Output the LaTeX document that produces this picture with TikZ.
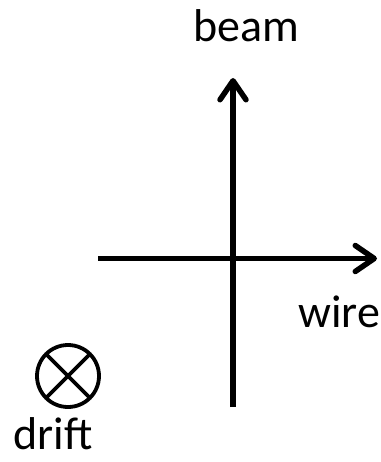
\documentclass[tikz,border=0pt]{standalone}
\usepackage{fontspec}
\setmainfont{Carlito}
\usetikzlibrary{arrows.meta}
\begin{document}
\begin{tikzpicture}[x=1pt,y=-1pt,
  axis/.style={line width=5.5pt,-{Straight Barb[length=19pt,width=26pt,line cap=round,line join=round]}},
  lbl/.style={font=\fontsize{46}{55}\selectfont,anchor=base,inner sep=0pt},
  drifts/.style={circle,draw,line width=3.8pt,minimum size=62pt,inner sep=0pt,
    path picture={\draw[line width=3.8pt] (path picture bounding box.north west) -- (path picture bounding box.south east)
      (path picture bounding box.north east) -- (path picture bounding box.south west);}}]
\useasboundingbox (0,0) rectangle (380,462);
\coordinate (vbot) at (233,407);
\coordinate (vtop) at (233,78);
\coordinate (hleft) at (98,258.5);
\coordinate (hright) at (377,258.5);
\draw[axis] (vbot) -- (vtop);
\draw[axis] (hleft) -- (hright);
\node[lbl] (beam) at (246.5,42) {beam};
\node[lbl] (wire) at (339,327) {wire};
\node[lbl] (drift) at (53,449) {drift};
\node[drifts] (sym) at (68,376) {};
\end{tikzpicture}
\end{document}
